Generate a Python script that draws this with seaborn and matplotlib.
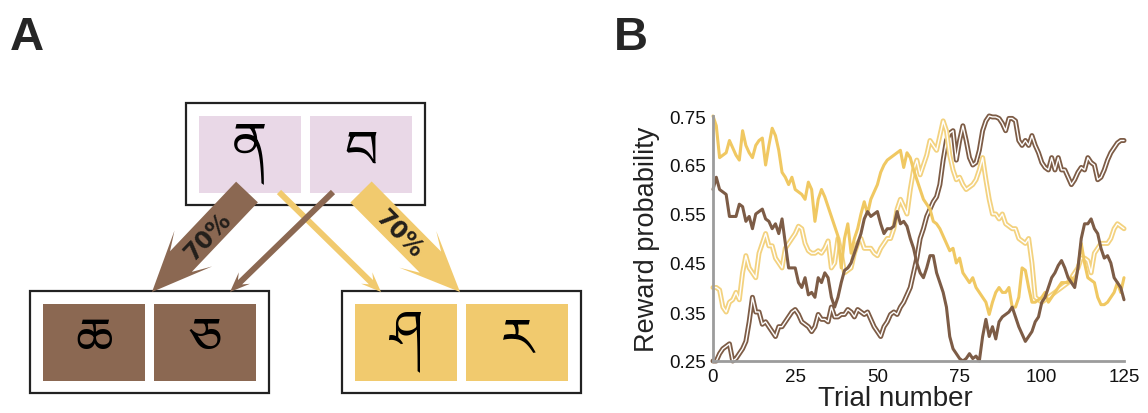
import numpy as np
import seaborn as sns
import matplotlib
matplotlib.use("Agg")
import matplotlib.pyplot as plt
from matplotlib import font_manager
from matplotlib.ft2font import FT2Font
from matplotlib.patches import Rectangle, FancyArrow

# ---- data: reward probability per trial ----
trials = np.arange(126)

yellow_solid = [
    0.75, 0.73, 0.665, 0.67, 0.675, 0.70, 0.685, 0.67, 0.66, 0.72,
    0.69, 0.675, 0.665, 0.69, 0.70, 0.705, 0.65, 0.69, 0.725, 0.71,
    0.68, 0.635, 0.625, 0.61, 0.625, 0.60, 0.595, 0.59, 0.58, 0.615,
    0.60, 0.535, 0.58, 0.60, 0.585, 0.565, 0.545, 0.525, 0.505, 0.44,
    0.50, 0.53, 0.47, 0.50, 0.52, 0.55, 0.575, 0.55, 0.58, 0.595,
    0.61, 0.635, 0.65, 0.66, 0.665, 0.67, 0.675, 0.68, 0.645, 0.675,
    0.665, 0.64, 0.62, 0.60, 0.58, 0.57, 0.56, 0.535, 0.53, 0.52,
    0.505, 0.49, 0.475, 0.48, 0.45, 0.46, 0.43, 0.42, 0.41, 0.42,
    0.40, 0.39, 0.38, 0.37, 0.345, 0.37, 0.39, 0.40, 0.39, 0.39,
    0.40, 0.36, 0.36, 0.38, 0.44, 0.435, 0.40, 0.37, 0.37, 0.375,
    0.38, 0.39, 0.37, 0.38, 0.39, 0.40, 0.41, 0.41, 0.41, 0.42,
    0.41, 0.44, 0.49, 0.45, 0.42, 0.415, 0.41, 0.38, 0.365, 0.365,
    0.37, 0.38, 0.39, 0.41, 0.39, 0.42]

yellow_double = [
    0.40, 0.40, 0.395, 0.36, 0.35, 0.37, 0.375, 0.39, 0.375, 0.43,
    0.465, 0.44, 0.43, 0.42, 0.47, 0.49, 0.51, 0.485, 0.485, 0.46,
    0.45, 0.44, 0.48, 0.49, 0.50, 0.51, 0.525, 0.52, 0.49, 0.475,
    0.47, 0.47, 0.475, 0.47, 0.48, 0.495, 0.44, 0.45, 0.50, 0.47,
    0.43, 0.435, 0.44, 0.47, 0.49, 0.50, 0.48, 0.48, 0.48, 0.47,
    0.465, 0.48, 0.49, 0.50, 0.50, 0.52, 0.56, 0.58, 0.565, 0.55,
    0.60, 0.64, 0.66, 0.63, 0.65, 0.67, 0.70, 0.69, 0.68, 0.71,
    0.74, 0.72, 0.67, 0.64, 0.62, 0.625, 0.61, 0.60, 0.605, 0.61,
    0.62, 0.64, 0.665, 0.62, 0.58, 0.55, 0.55, 0.54, 0.55, 0.53,
    0.525, 0.52, 0.52, 0.50, 0.495, 0.49, 0.50, 0.45, 0.38, 0.375,
    0.37, 0.375, 0.38, 0.385, 0.39, 0.395, 0.40, 0.405, 0.41, 0.42,
    0.43, 0.44, 0.46, 0.46, 0.455, 0.43, 0.47, 0.48, 0.49, 0.49,
    0.49, 0.50, 0.52, 0.53, 0.525, 0.52]

brown_solid = [
    0.60, 0.625, 0.60, 0.595, 0.59, 0.545, 0.545, 0.545, 0.57, 0.565,
    0.535, 0.545, 0.52, 0.55, 0.555, 0.56, 0.54, 0.535, 0.52, 0.53,
    0.51, 0.54, 0.49, 0.44, 0.44, 0.44, 0.41, 0.40, 0.42, 0.385,
    0.39, 0.38, 0.42, 0.41, 0.43, 0.42, 0.38, 0.36, 0.38, 0.41,
    0.435, 0.44, 0.45, 0.47, 0.49, 0.51, 0.54, 0.555, 0.545, 0.55,
    0.555, 0.53, 0.51, 0.52, 0.52, 0.525, 0.555, 0.53, 0.535, 0.525,
    0.50, 0.48, 0.45, 0.43, 0.42, 0.44, 0.465, 0.465, 0.43, 0.41,
    0.39, 0.36, 0.30, 0.275, 0.265, 0.255, 0.25, 0.255, 0.265, 0.255,
    0.26, 0.25, 0.30, 0.335, 0.30, 0.32, 0.295, 0.33, 0.34, 0.345,
    0.35, 0.36, 0.34, 0.32, 0.305, 0.29, 0.30, 0.31, 0.33, 0.34,
    0.37, 0.38, 0.40, 0.42, 0.43, 0.445, 0.455, 0.44, 0.42, 0.41,
    0.40, 0.44, 0.50, 0.53, 0.53, 0.54, 0.52, 0.51, 0.48, 0.46,
    0.465, 0.45, 0.42, 0.41, 0.40, 0.375]

brown_double = [
    0.25, 0.25, 0.265, 0.275, 0.28, 0.285, 0.25, 0.255, 0.265, 0.275,
    0.29, 0.33, 0.38, 0.35, 0.35, 0.325, 0.33, 0.32, 0.31, 0.30,
    0.32, 0.32, 0.33, 0.34, 0.35, 0.355, 0.345, 0.33, 0.325, 0.32,
    0.31, 0.32, 0.345, 0.335, 0.335, 0.33, 0.36, 0.34, 0.34, 0.345,
    0.345, 0.355, 0.35, 0.34, 0.355, 0.35, 0.345, 0.35, 0.335, 0.32,
    0.31, 0.30, 0.32, 0.33, 0.345, 0.35, 0.345, 0.36, 0.37, 0.385,
    0.40, 0.43, 0.46, 0.50, 0.52, 0.545, 0.56, 0.575, 0.585, 0.61,
    0.66, 0.70, 0.715, 0.72, 0.66, 0.70, 0.73, 0.70, 0.665, 0.65,
    0.655, 0.68, 0.72, 0.74, 0.75, 0.748, 0.748, 0.745, 0.735, 0.72,
    0.745, 0.745, 0.74, 0.70, 0.69, 0.70, 0.69, 0.71, 0.69, 0.675,
    0.655, 0.645, 0.64, 0.665, 0.64, 0.665, 0.64, 0.64, 0.625, 0.61,
    0.62, 0.635, 0.645, 0.64, 0.665, 0.655, 0.65, 0.62, 0.625, 0.64,
    0.66, 0.675, 0.685, 0.695, 0.70, 0.70]

y_ticks = [0.25, 0.35, 0.45, 0.55, 0.65, 0.75]
x_ticks = [0, 25, 50, 75, 100, 125]

# symbols shown in the task diagram
first_stage = ["ན", "བ"]
second_brown = ["ཆ", "ཅ"]
second_yellow = ["ཤ", "ར"]

BROWN = "#8b6852"
YELLOW = "#f1ca6e"
PINK = "#e9d8e7"
LINE_BROWN = "#7d5c46"
LINE_YELLOW = "#f0c862"


def find_tibetan_font():
    """return the name of an installed font that has tibetan glyphs, or None"""
    for f in font_manager.fontManager.ttflist:
        if "tibet" in f.name.lower():
            return f.name
    for f in font_manager.fontManager.ttflist:
        try:
            if 0x0F53 in FT2Font(f.fname).get_charmap():
                return f.name
        except Exception:
            pass
    return None


def draw_task(ax, tib_font):
    # axes spans 600x414 px, so data units are pixels
    ax.set_xlim(0, 600)
    ax.set_ylim(414, 0)
    ax.axis("off")

    fam = [tib_font, "DejaVu Sans"] if tib_font else ["DejaVu Sans"]

    def stage(x0, y0, colour, symbols):
        ax.add_patch(Rectangle((x0, y0), 239, 102, fill=False, lw=1.6, edgecolor="#222222", zorder=1))
        for i, s in enumerate(symbols):
            sx = x0 + 13 + i * 111
            ax.add_patch(Rectangle((sx, y0 + 13), 102, 77, color=colour, lw=0, zorder=2))
            ax.text(sx + 51, y0 + 50, s, ha="center", va="center", fontsize=38,
                    color="black", family=fam, zorder=3)

    stage(186, 104, PINK, first_stage)
    stage(30, 292, BROWN, second_brown)
    stage(342, 292, YELLOW, second_yellow)

    # arrows: (start, tip, width, head width, head length, colour)
    arrows = [
        ((279, 193), (381, 293), 6, 16, 20, YELLOW),
        ((333, 193), (230, 293), 6, 16, 20, BROWN),
        ((247, 193), (152, 293), 30, 52, 60, BROWN),
        ((361, 193), (460, 293), 30, 52, 60, YELLOW),
    ]
    for (x0, y0), (x1, y1), w, hw, hl, c in arrows:
        ax.add_patch(FancyArrow(x0, y0, x1 - x0, y1 - y0, width=w, head_width=hw,
                                head_length=hl, length_includes_head=True, overhang=0.3,
                                color=c, lw=0, zorder=4))

    lab = dict(ha="center", va="center", fontsize=17, fontweight="bold", color="#231f1b",
               family=["Liberation Sans Narrow", "DejaVu Sans"], zorder=5)
    ax.text(208, 237, "70%", rotation=46.5, **lab)
    ax.text(399, 234, "70%", rotation=-45.5, **lab)


def draw_walks(ax):
    sns.lineplot(x=trials, y=brown_double, ax=ax, color=LINE_BROWN, linewidth=3.6, clip_on=False)
    sns.lineplot(x=trials, y=brown_double, ax=ax, color="white", linewidth=1.0, clip_on=False)
    sns.lineplot(x=trials, y=yellow_double, ax=ax, color="#f3d27f", linewidth=3.6, clip_on=False)
    sns.lineplot(x=trials, y=yellow_double, ax=ax, color="white", linewidth=1.0, clip_on=False)
    sns.lineplot(x=trials, y=yellow_solid, ax=ax, color=LINE_YELLOW, linewidth=2.2, clip_on=False)
    sns.lineplot(x=trials, y=brown_solid, ax=ax, color=LINE_BROWN, linewidth=2.2, clip_on=False)

    ax.set_xlim(0, 125)
    ax.set_ylim(0.25, 0.75)
    ax.set_xticks(x_ticks)
    ax.set_xticklabels([str(t) for t in x_ticks])
    ax.set_yticks(y_ticks)
    ax.set_yticklabels([f"{t:.2f}" for t in y_ticks])
    for side in ["top", "right"]:
        ax.spines[side].set_visible(False)
    for side in ["left", "bottom"]:
        ax.spines[side].set_color("#9c9c9c")
        ax.spines[side].set_linewidth(2)
    ax.tick_params(axis="both", labelsize=13.5, length=3, width=1.4, color="#9c9c9c",
                   labelcolor="#111111", pad=2)
    ax.set_xlabel("Trial number", fontsize=20, color="#222222")
    ax.xaxis.set_label_coords(0.443, -0.1)
    ax.set_ylabel("Reward probability", fontsize=19.5, labelpad=7, color="#222222")


sns.set_style("white")
plt.rcParams["font.family"] = ["Liberation Sans", "DejaVu Sans"]

tib = find_tibetan_font()

fig = plt.figure(figsize=(11.48, 4.14), dpi=100)
ax_a = fig.add_axes([0, 0, 600 / 1148, 1])
draw_task(ax_a, tib)

ax_b = fig.add_axes([713 / 1148, 1 - 362 / 414, 411 / 1148, 245 / 414])
draw_walks(ax_b)

fig.text(10 / 1148, 1 - 38 / 414, "A", fontsize=34, fontweight="bold", va="center")
fig.text(614 / 1148, 1 - 38 / 414, "B", fontsize=34, fontweight="bold", va="center")

fig.savefig("out.png", dpi=100)
